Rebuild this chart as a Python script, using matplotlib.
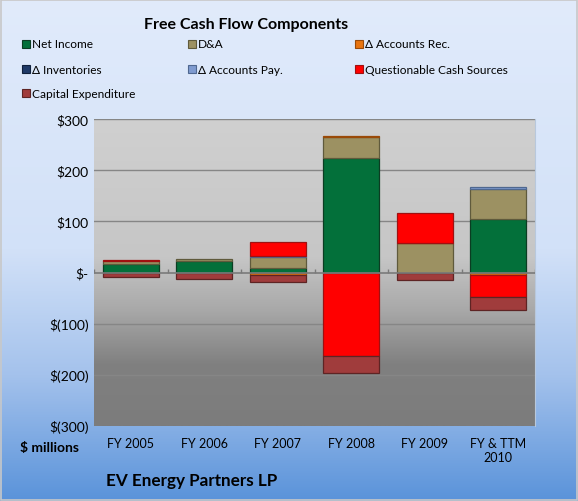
import numpy as np
import matplotlib.pyplot as plt
from matplotlib.colors import LinearSegmentedColormap
from matplotlib.patches import Rectangle

###--- Data ($ millions) ---###
years = ['FY 2005', 'FY 2006', 'FY 2007', 'FY 2008', 'FY 2009', 'FY & TTM\n2010']
series_names = ['Net Income', 'D&A', '\u0394 Accounts Rec.', '\u0394 Inventories',
                '\u0394 Accounts Pay.', 'Questionable Cash Sources', 'Capital Expenditure']
net_income = [16, 23, 9, 224, 0, 105]
dna = [6.5, 3, 21, 40, 57, 59]
d_acc_rec = [0, 0, -5, 2, 1, -5]
d_inventories = [0, 0, 0, 0, 0, 0]
d_acc_pay = [0, 0, 2, 0, 0, 3]
questionable = [1.5, 0, 28, -164, 58, -42]
capex = [-8, -13, -14, -32, -15, -27]
yticks = [300, 200, 100, 0, -100, -200, -300]
ytlabs = ['$300', '$200', '$100', '$-', '$(100)', '$(200)', '$(300)']

colors = ['#03703a', '#9c9162', '#e8740f', '#1f3a68', '#7f9bd0', '#ff0000', '#a03c3c']
edges = ['#0b3d22', '#5f5a3c', '#9a4a08', '#10203c', '#4f6890', '#a01010', '#5e2424']

plt.rcParams['font.family'] = ['Lato', 'DejaVu Sans']

fig = plt.figure(figsize=(5.78, 5.02), dpi=100)

##-- Figure background gradient --##
bg = fig.add_axes([0, 0, 1, 1], zorder=-10)
cm_bg = LinearSegmentedColormap.from_list('bg', [(0, '#e1ebfb'), (0.5, '#d2e1f8'),
                                                 (0.75, '#a4c2ec'), (1, '#5a93da')])
bg.imshow(np.linspace(0, 1, 256)[:, None], aspect='auto', cmap=cm_bg,
          extent=[0, 1, 0, 1], origin='upper')
bg.add_patch(Rectangle((0.002, 0.002), 0.996, 0.996, fill=False, ec='#c8c8c8', lw=1.2,
                       transform=bg.transAxes))
bg.set_xlim(0, 1); bg.set_ylim(0, 1)
bg.set_axis_off()

##-- Main axes --##
ax = fig.add_axes([94/578, 1-427/502, 441/578, 307/502])
x = np.arange(len(years))
ax.set_xlim(-0.5, len(years)-0.5)
ax.set_ylim(-300, 300)

cm_pa = LinearSegmentedColormap.from_list('pa', [(0, '#d0d0d0'), (0.45, '#c6c6c6'),
                                                 (0.62, '#a9a9a9'), (0.8, '#808080'),
                                                 (1, '#7c7c7c')])
ax.imshow(np.linspace(0, 1, 256)[:, None], aspect='auto', cmap=cm_pa,
          extent=[-0.5, len(years)-0.5, -300, 300], origin='upper', zorder=0)

for yv in [300, 200, 100, -100, -200]:
    ax.axhline(yv, color='#868686', lw=1, zorder=1)

data = [net_income, dna, d_acc_rec, d_inventories, d_acc_pay, questionable, capex]
pos_bot = np.zeros(len(years))
neg_bot = np.zeros(len(years))
for vals, c, ec in zip(data, colors, edges):
    vals = np.array(vals, dtype=float)
    bottoms = np.where(vals >= 0, pos_bot, neg_bot)
    nz = vals != 0
    if nz.any():
        ax.bar(x[nz], vals[nz], 0.76, bottom=bottoms[nz], color=c, edgecolor=ec,
               lw=0.9, zorder=3)
    pos_bot += np.clip(vals, 0, None)
    neg_bot += np.clip(vals, None, 0)

# category axis at zero with small tick marks
ax.axhline(0, color='#7a7a7a', lw=1.2, zorder=4)
ax.vlines(np.arange(len(years)+1)-0.5, 0, 7, color='#7a7a7a', lw=1, zorder=4)

ax.set_yticks(yticks)
ax.set_yticklabels(ytlabs, fontsize=10)
ax.set_xticks(x)
ax.set_xticklabels(years, fontsize=9)
ax.tick_params(axis='both', length=0)
ax.tick_params(axis='x', pad=8)
ax.tick_params(axis='y', pad=4)
for s in ax.spines.values():
    s.set_visible(False)
ax.spines['right'].set_visible(True)
ax.spines['right'].set_color('#b8c8dc')

##-- Titles / texts --##
fig.text(246/578, 1-25/502, 'Free Cash Flow Components', fontsize=11.5, fontweight='bold',
         ha='center', va='center')
fig.text(20/578, 1-448/502, '$ millions', fontsize=10, fontweight='bold',
         ha='left', va='center')
fig.text(106/578, 1-481/502, 'EV Energy Partners LP', fontsize=12.3, fontweight='bold',
         ha='left', va='center')

##-- Legend placed manually (3 columns, row-wise) --##
leg_x = [22, 188, 355]
leg_y = [45, 70, 94]
for i, (name, c, ec) in enumerate(zip(series_names, colors, edges)):
    col, row = i % 3, i // 3
    px, py = leg_x[col], leg_y[row]
    bg.add_patch(Rectangle((px/578, 1-(py+4)/502), 8/578, 8/502, fc=c, ec=ec, lw=0.8,
                           transform=fig.transFigure))
    fig.text((px+10)/578, 1-py/502, name, fontsize=8.6, ha='left', va='center')

fig.savefig('out.png', dpi=100)
